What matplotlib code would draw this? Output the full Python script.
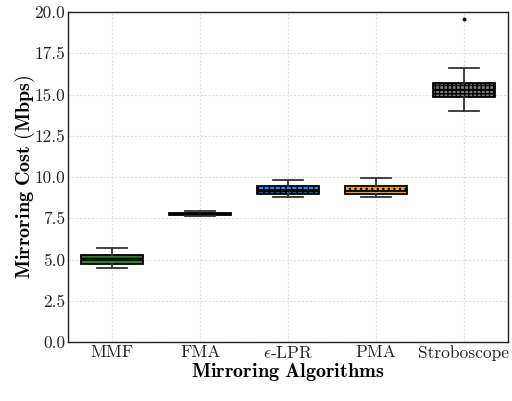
import matplotlib
matplotlib.use("Agg")
import matplotlib.pyplot as plt

plt.rcParams["font.family"] = "serif"
plt.rcParams["font.serif"] = ["cmr10"]
plt.rcParams["mathtext.fontset"] = "cm"
plt.rcParams["axes.formatter.use_mathtext"] = True
plt.rcParams["hatch.linewidth"] = 1.0

# data
algos = ["MMF", "FMA", r"$\epsilon$-LPR", "PMA", "Stroboscope"]
whis_lo = [4.50, 7.65, 8.80, 8.80, 14.00]
q1 = [4.75, 7.72, 9.00, 9.00, 14.85]
med = [5.00, 7.78, 9.22, 9.15, 15.30]
q3 = [5.28, 7.85, 9.48, 9.48, 15.72]
whis_hi = [5.72, 7.92, 9.85, 9.96, 16.60]
fliers = [[], [], [], [], [19.55]]

colors = ["#228b22", "#8c8c8c", "#1e90ff", "#ffa500", "#7a7a7a"]
hatches = ["-", "", "+++", "...", "++++"]

stats = []
for i, name in enumerate(algos):
    stats.append(dict(label=name, whislo=whis_lo[i], q1=q1[i], med=med[i],
                      q3=q3[i], whishi=whis_hi[i], fliers=fliers[i]))

fig, ax = plt.subplots(figsize=(5.12, 4.01), dpi=100)
ax.set_axisbelow(True)
ax.grid(True, color="#e0e0e0", ls=(0, (2, 1.5)), lw=0.8)

bp = ax.bxp(stats, widths=0.7, patch_artist=True,
            boxprops=dict(edgecolor="black", linewidth=1.3),
            medianprops=dict(color="black", linewidth=1.3),
            whiskerprops=dict(color="#333333", linewidth=1.3),
            capprops=dict(color="#333333", linewidth=1.3),
            flierprops=dict(marker="o", markersize=1.8, markerfacecolor="black",
                            markeredgecolor="black"))
for patch, c, h in zip(bp["boxes"], colors, hatches):
    patch.set_facecolor(c)
    patch.set_hatch(h)

ax.set_ylim(0, 20)
ax.set_yticks([0, 2.5, 5, 7.5, 10, 12.5, 15, 17.5, 20])
ax.set_yticklabels([f"{v:.1f}" for v in ax.get_yticks()])
ax.tick_params(axis="both", length=0, labelsize=12.5, pad=2, colors="#222222")
for s in ax.spines.values():
    s.set_color("#222222")
    s.set_linewidth(1.0)

ax.set_xlabel(r"$\mathbf{Mirroring\ Algorithms}$", fontsize=14.5, labelpad=0)
ax.set_ylabel(r"$\mathbf{Mirroring\ Cost\ (Mbps)}$", fontsize=14.5, labelpad=-2)

fig.subplots_adjust(left=0.133, right=0.992, top=0.97, bottom=0.147)
fig.savefig("out.png", dpi=100)
